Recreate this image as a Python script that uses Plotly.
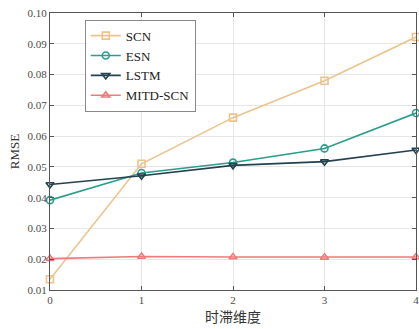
import plotly.graph_objects as go

x_vals = [0, 1, 2, 3, 4]
scn = [0.0135, 0.0510, 0.0660, 0.0780, 0.0922]
esn = [0.0392, 0.0480, 0.0514, 0.0560, 0.0675]
lstm = [0.0443, 0.0471, 0.0505, 0.0517, 0.0555]
mitd = [0.0202, 0.0209, 0.0207, 0.0206, 0.0207]

names = ["SCN", "ESN", "LSTM", "MITD-SCN"]
colors = ["#EDC38D", "#2A9D8C", "#23414F", "#EE7A7A"]
symbols = ["square-open", "circle-open", "triangle-down-open", "triangle-up-open"]
series = [scn, esn, lstm, mitd]

fig = go.Figure()
for n, c, s, y in zip(names, colors, symbols, series):
    fig.add_trace(go.Scatter(
        x=x_vals, y=y, name=n, mode="lines+markers", cliponaxis=False,
        line=dict(color=c, width=1.6),
        marker=dict(symbol=s, size=7, color=c, line=dict(color=c, width=1.6)),
    ))

serif = "Liberation Serif"
fig.update_layout(
    width=419, height=329,
    margin=dict(l=50, r=0, t=13, b=39),
    plot_bgcolor="white", paper_bgcolor="white",
    font=dict(family=serif, size=11, color="#4a4a4a"),
    showlegend=True,
    legend=dict(
        x=0.095, y=0.976, xanchor="left", yanchor="top",
        bordercolor="#888888", borderwidth=1, bgcolor="white",
        font=dict(family=serif, size=13, color="#222222"),
        tracegroupgap=0, itemwidth=30,
    ),
)
fig.update_xaxes(
    range=[0, 4], tickvals=[0, 1, 2, 3, 4],
    showgrid=True, gridcolor="#E6E6E6", gridwidth=1,
    showline=True, linecolor="#555555", linewidth=1, mirror="ticks",
    ticks="inside", ticklen=4, tickcolor="#555555",
    zeroline=False, ticklabeloverflow="allow",
    tickfont=dict(family=serif, size=11, color="#4a4a4a"),
    title=dict(text="时滞维度", font=dict(size=14, color="#333333", family="Noto Sans CJK SC"), standoff=6),
)
fig.update_yaxes(
    range=[0.01, 0.10], tickvals=[0.01, 0.02, 0.03, 0.04, 0.05, 0.06, 0.07, 0.08, 0.09, 0.10],
    ticktext=["0.01", "0.02", "0.03", "0.04", "0.05", "0.06", "0.07", "0.08", "0.09", "0.10"],
    showgrid=True, gridcolor="#E6E6E6", gridwidth=1,
    showline=True, linecolor="#555555", linewidth=1, mirror="ticks",
    ticks="inside", ticklen=4, tickcolor="#555555",
    zeroline=False,
    tickfont=dict(family=serif, size=11, color="#4a4a4a"),
    title=dict(text="RMSE", font=dict(family=serif, size=13, color="#333333"), standoff=4),
)
fig.write_html("out.html")
